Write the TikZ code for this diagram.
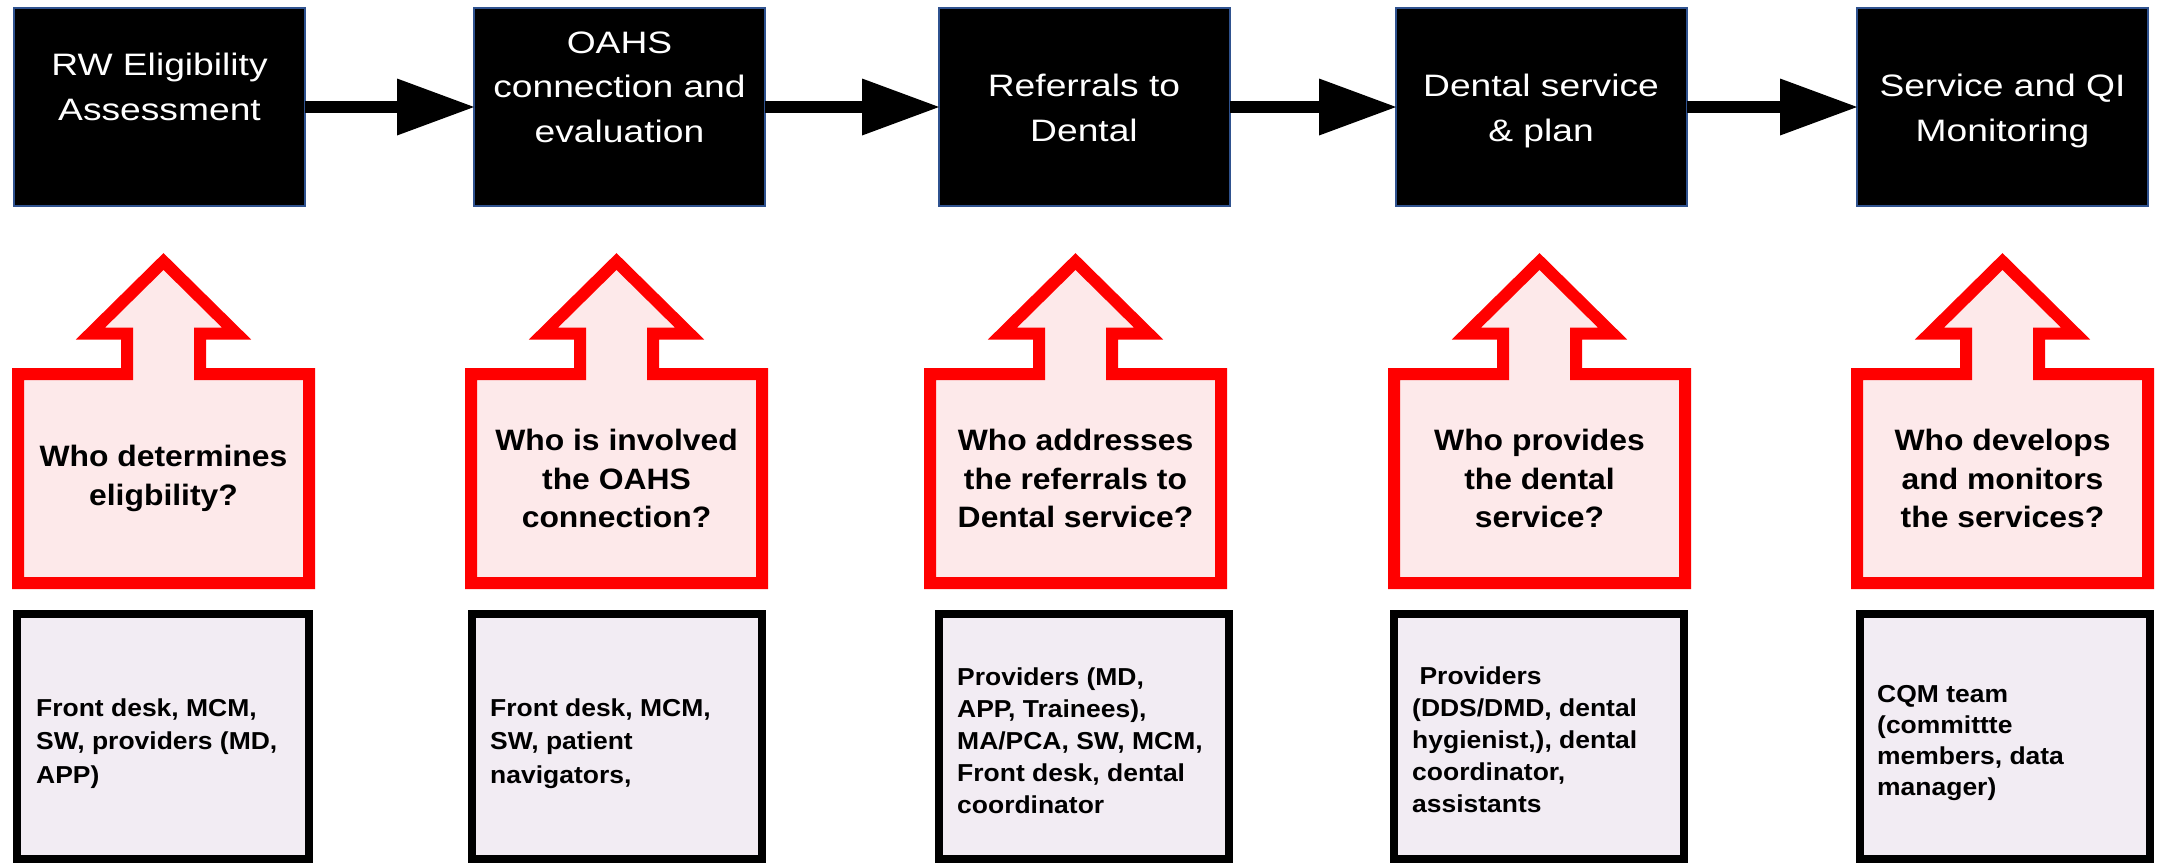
\documentclass[tikz,border=0pt]{standalone}
\usepackage{fontspec}
\setmainfont{Liberation Sans}
\newfontfamily\stepfont[FakeStretch=1.2]{Liberation Sans}
\newfontfamily\askfont[FakeStretch=1.08]{Liberation Sans}
\newfontfamily\rolefont[FakeStretch=1.08]{Liberation Sans}
\usetikzlibrary{arrows.meta}

\definecolor{stepedge}{RGB}{47,82,143}
\definecolor{askred}{RGB}{255,0,0}
\definecolor{askfill}{RGB}{253,233,234}
\definecolor{rolefill}{RGB}{242,236,243}

\tikzset{
  stepbox/.style={draw=stepedge, line width=2pt, fill=black, minimum width=291pt,
    minimum height=198pt, inner sep=0pt, outer sep=0pt, anchor=north west},
  % multi-line text: the base anchor sits on the last line
  steptext/.style={text=white, font=\stepfont\fontsize{31}{44.5}\selectfont,
    align=center, anchor=base, inner sep=0pt},
  flow/.style={line width=12pt, -{Triangle[length=77pt,width=57pt,line width=0pt]}},
  askline/.style={draw=askred, fill=askfill, line width=12pt, line join=miter, miter limit=10},
  askshape/.pic={
    \path[askline] (151.5,261.5) -- (224.5,333.5) -- (188,333.5) -- (188,374)
      -- (297,374) -- (297,583) -- (6,583) -- (6,374) -- (115,374) -- (115,333.5)
      -- (78.5,333.5) -- cycle;
  },
  asktext/.style={font=\askfont\bfseries\fontsize{29.5}{38.3}\selectfont,
    align=center, anchor=center, inner sep=0pt},
  rolebox/.style={draw=black, line width=8pt, fill=rolefill, minimum height=245pt,
    inner sep=0pt, outer sep=0pt, anchor=north west},
  roletext/.style={font=\rolefont\bfseries\fontsize{24.5}{#1}\selectfont,
    align=left, anchor=base west, inner sep=0pt},
}

\begin{document}
\begin{tikzpicture}[x=1pt, y=-1pt]
\fill[white] (0,0) rectangle (2157,865);
\useasboundingbox (0,0) rectangle (2157,865);

% process steps
\node[stepbox] (t1) at (14,8) {};
\node[stepbox] (t2) at (474,8) {};
\node[stepbox] (t3) at (939,8) {};
\node[stepbox] (t4) at (1396,8) {};
\node[stepbox] (t5) at (1857,8) {};

\node[steptext] (t1x) at (159.5,120) {RW Eligibility\\Assessment};
\node[steptext] (t2x) at (619.5,142) {OAHS\\connection and\\evaluation};
\node[steptext] (t3x) at (1084,141) {Referrals to\\Dental};
\node[steptext] (t4x) at (1541,141) {Dental service\\\& plan};
\node[steptext] (t5x) at (2002.5,141) {Service and QI\\Monitoring};

\draw[flow] (t1.east) -- (t2.west);
\draw[flow] (t2.east) -- (t3.west);
\draw[flow] (t3.east) -- (t4.west);
\draw[flow] (t4.east) -- (t5.west);

% question callouts
\pic at (12,0) {askshape};
\pic at (465,0) {askshape};
\pic at (924,0) {askshape};
\pic at (1388,0) {askshape};
\pic at (1851,0) {askshape};

\node[asktext] (q1) at (163.5,478.5) {Who determines\\eligbility?};
\node[asktext] (q2) at (616.5,478.5) {Who is involved\\the OAHS\\connection?};
\node[asktext] (q3) at (1075.5,478.5) {Who addresses\\the referrals to\\Dental service?};
\node[asktext] (q4) at (1539.5,478.5) {Who provides\\the dental\\service?};
\node[asktext] (q5) at (2002.5,478.5) {Who develops\\and monitors\\the services?};

% roles
\node[rolebox, minimum width=292pt] (r1) at (17,614) {};
\node[rolebox, minimum width=290pt] (r2) at (472,614) {};
\node[rolebox, minimum width=290pt] (r3) at (939,614) {};
\node[rolebox, minimum width=290pt] (r4) at (1394,614) {};
\node[rolebox, minimum width=290pt] (r5) at (1860,614) {};

\node[roletext=33.5] (r1x) at (36,783) {Front desk, MCM,\\SW, providers (MD,\\APP)};
\node[roletext=33.5] (r2x) at (490,783) {Front desk, MCM,\\SW, patient\\navigators,};
\node[roletext=31.8] (r3x) at (957,813) {Providers (MD,\\APP, Trainees),\\MA/PCA, SW, MCM,\\Front desk, dental\\coordinator};
\node[roletext=32] (r4x) at (1412,812) {\ Providers\\(DDS/DMD, dental\\hygienist,), dental\\coordinator,\\assistants};
\node[roletext=30.8] (r5x) at (1877,795) {CQM team\\(committte\\members, data\\manager)};
\end{tikzpicture}
\end{document}
